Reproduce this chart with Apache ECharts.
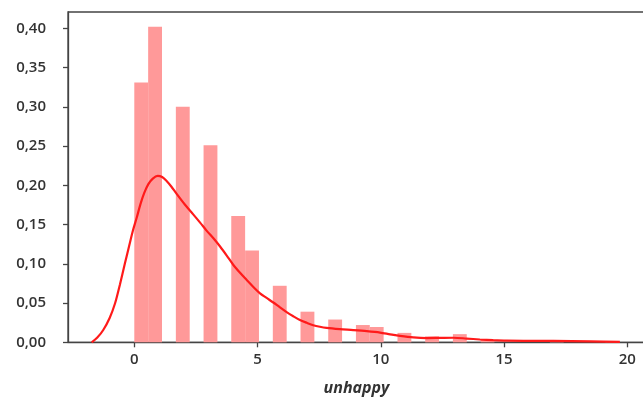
<!DOCTYPE html>
<html>
<head>
<meta charset="utf-8">
<script src="https://cdn.jsdelivr.net/npm/echarts@6/dist/echarts.min.js"></script>
<style>
  html, body { margin: 0; padding: 0; background: #fff; }
  #chart { width: 643px; height: 398px; }
</style>
</head>
<body>
<div id="chart"></div>
<script>
// Histogram of "unhappy" (density-normalised) with a kernel density estimate.
const binWidth = 0.562;
const binIndex = [0, 1, 3, 5, 7, 8, 10, 12, 14, 16, 17, 19, 21, 23, 25, 30, 34];
const binDensity = [0.331, 0.402, 0.300, 0.251, 0.161, 0.117, 0.072, 0.039, 0.029, 0.022, 0.0195, 0.012, 0.0076, 0.0104, 0.003, 0.002, 0.001];

// KDE curve samples
const kdeX = [-1.73, -1.5, -1.26, -1.0, -0.78, -0.58, -0.38, -0.2, -0.05, 0.1, 0.25, 0.4, 0.57, 0.75, 0.95, 1.13, 1.31, 1.5, 1.72, 2.05, 2.39, 2.67, 2.94, 3.21, 3.48, 3.75, 4.02, 4.29, 4.56, 4.83, 5.1, 5.37, 5.64, 5.91, 6.18, 6.45, 6.72, 7.0, 7.26, 7.53, 7.8, 8.34, 8.88, 9.43, 9.97, 10.38, 10.78, 11.32, 11.86, 12.4, 12.94, 13.48, 14.02, 14.56, 15.1, 16.0, 17.0, 18.5, 19.7];
const kdeY = [0.0, 0.006, 0.0157, 0.031, 0.0497, 0.074, 0.1006, 0.124, 0.143, 0.159, 0.176, 0.190, 0.2015, 0.2085, 0.212, 0.2105, 0.2055, 0.1985, 0.189, 0.1755, 0.163, 0.1525, 0.142, 0.1325, 0.122, 0.1105, 0.0985, 0.0885, 0.0794, 0.0705, 0.0624, 0.0565, 0.0507, 0.0445, 0.0385, 0.0332, 0.0284, 0.0248, 0.0218, 0.0198, 0.0184, 0.0168, 0.0156, 0.0142, 0.0124, 0.0102, 0.0082, 0.0062, 0.0054, 0.0056, 0.0058, 0.0048, 0.0036, 0.0027, 0.0021, 0.0019, 0.0018, 0.0012, 0.0005];

const xTicks = [0, 5, 10, 15, 20];
const xName = 'unhappy';

const barData = binIndex.map((b, i) => [b * binWidth, (b + 1) * binWidth, binDensity[i]]);
const kdeData = kdeX.map((x, i) => [x, kdeY[i]]);

const labelFont = { fontFamily: 'Open Sans', fontSize: 15, fontWeight: 600, color: '#333' };
const axisLineStyle = { color: '#444', width: 1.3 };

const chart = echarts.init(document.getElementById('chart'), null, { renderer: 'canvas' });
chart.setOption({
  animation: false,
  backgroundColor: '#fff',
  grid: {
    left: 68, top: 12, width: 577, height: 330.3,
    outerBoundsMode: 'none',
    containLabel: false,
    show: true, borderColor: '#444', borderWidth: 1.3, backgroundColor: 'transparent'
  },
  xAxis: {
    type: 'value',
    min: -2.69, max: 20.72,
    name: xName,
    nameLocation: 'middle',
    nameGap: 38,
    nameTextStyle: { fontFamily: 'Open Sans', fontSize: 16, fontWeight: 700, fontStyle: 'italic', color: '#333' },
    axisLine: { show: true, onZero: false, lineStyle: axisLineStyle },
    axisTick: { show: true, customValues: xTicks, length: 5, lineStyle: axisLineStyle },
    axisLabel: Object.assign({ customValues: xTicks, margin: 10, showMaxLabel: true, showMinLabel: true, hideOverlap: false }, labelFont),
    splitLine: { show: false }
  },
  yAxis: {
    type: 'value',
    min: 0, max: 0.4208, interval: 0.05,
    axisLine: { show: true, onZero: false, lineStyle: axisLineStyle },
    axisTick: { show: true, length: 5, lineStyle: axisLineStyle },
    axisLabel: Object.assign({
      margin: 22,
      showMaxLabel: false,
      formatter: v => v.toFixed(2).replace('.', ',')
    }, labelFont),
    splitLine: { show: false }
  },
  series: [
    {
      type: 'custom',
      data: barData,
      encode: { x: [0, 1], y: 2 },
      renderItem: (params, api) => {
        const p0 = api.coord([api.value(0), api.value(2)]);
        const p1 = api.coord([api.value(1), 0]);
        return {
          type: 'rect',
          shape: { x: p0[0], y: p0[1], width: p1[0] - p0[0], height: p1[1] - p0[1] },
          style: { fill: '#ff9999' }
        };
      },
      z: 1
    },
    {
      type: 'line',
      data: kdeData,
      smooth: 0.3,
      showSymbol: false,
      lineStyle: { color: '#ff1a1a', width: 2.2 },
      z: 3
    }
  ]
});
</script>
</body>
</html>
